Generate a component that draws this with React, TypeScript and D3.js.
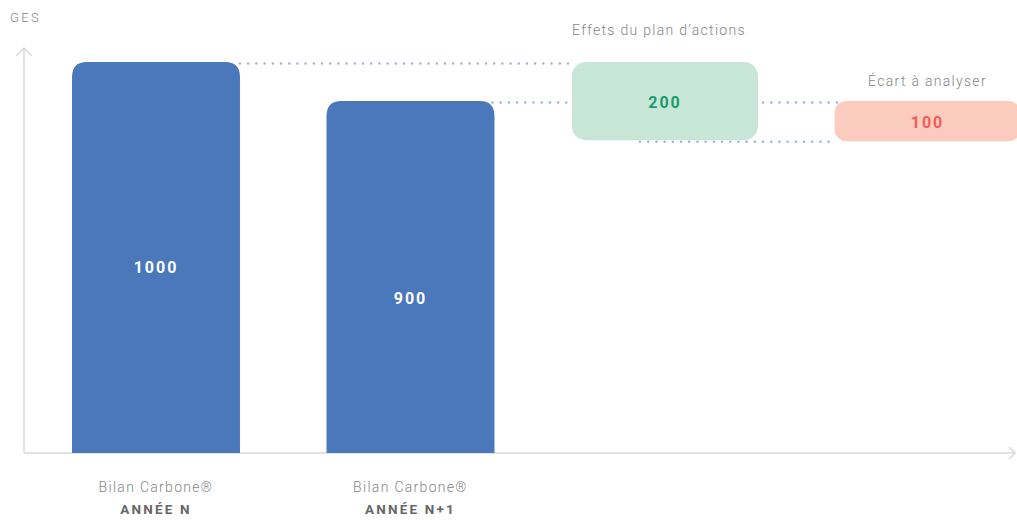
import React from 'react';
import * as d3 from 'd3';

// données
const steps = ['N', 'N+1', 'plan', 'ecart'];
const barLabels = ['ANNÉE N', 'ANNÉE N+1'];
const barSubLabel = 'Bilan Carbone®';
const barValues = [1000, 900];
const planEffect = 200;   // 1000 -> 800
const gapValue = 100;     // 900 -> 800
const floatTitles = ["Effets du plan d’actions", 'Écart à analyser'];
const axisTitle = 'GES';

const W = 1017;
const H = 520;
const FONT = 'Roboto, "Open Sans", sans-serif';
const BLUE = '#4a78bb';
const DOT = '#9fb0e4';
const GREY_TXT = '#858585';

function topRounded(x: number, y: number, w: number, h: number, r: number) {
  return `M${x},${y + h}V${y + r}Q${x},${y} ${x + r},${y}H${x + w - r}Q${x + w},${y} ${x + w},${y + r}V${y + h}Z`;
}

export default function App() {
  const x = d3.scaleBand<string>().domain(steps).range([72, 1003.5]).paddingInner(0.34).paddingOuter(0);
  const y = d3.scaleLinear().domain([0, 1000]).range([453, 62]);
  const bw = x.bandwidth();
  const cx = (k: string) => (x(k) as number) + bw / 2;

  const planTop = barValues[0];
  const planBottom = barValues[0] - planEffect;
  const gapTop = barValues[1];
  const gapBottom = barValues[1] - gapValue;

  const greenX = (x('plan') as number) - 9;
  const greenW = bw + 18;
  const redX = (x('ecart') as number) - 1;
  const redW = bw + 18;
  const labelDy = [10, 21];

  const dotted = (x1: number, x2: number, v: number, key: string) => (
    <line key={key} x1={x1} x2={x2} y1={y(v) + 1.5} y2={y(v) + 1.5}
      stroke={DOT} strokeWidth={2.5} strokeLinecap="round" strokeDasharray="0 8.2" />
  );

  return (
    <svg width={W} height={H} style={{ position: 'absolute', left: 0, top: 0, background: '#fff' }} fontFamily={FONT}>
      {/* axes */}
      <g stroke="#d8d8d8" strokeWidth={1.4} fill="none">
        <line x1={24} y1={y(0)} x2={24} y2={48} />
        <polyline points="16,56 24,48 32,56" />
        <line x1={24} y1={y(0)} x2={1015} y2={y(0)} />
        <polyline points="1009,447 1015,453 1009,459" />
      </g>
      <text x={10} y={22} fontSize={13} fill={GREY_TXT} letterSpacing={2.4} fontWeight={300}>{axisTitle}</text>

      {/* lignes pointillées */}
      {dotted((x('N') as number) + bw, greenX, planTop, 'l1')}
      {dotted(cx('N+1'), redX + 10, gapTop, 'l2')}
      {dotted(greenX + 68, redX + 2, planBottom, 'l3')}

      {/* barres */}
      {barValues.map((v, i) => {
        const k = steps[i];
        return (
          <g key={k}>
            <path d={topRounded(x(k) as number, y(v), bw, y(0) - y(v), 15)} fill={BLUE} />
            <text x={cx(k)} y={y(v / 2) + labelDy[i]} dy="0.35em" textAnchor="middle" fill="#fff"
              fontSize={16} fontWeight={700} letterSpacing={2}>{v}</text>
            <text x={cx(k)} y={492} textAnchor="middle" fill={GREY_TXT} fontSize={14} fontWeight={300} letterSpacing={1.3}>{barSubLabel}</text>
            <text x={cx(k)} y={514} textAnchor="middle" fill="#666" fontSize={13.5} fontWeight={700} letterSpacing={2.2}>{barLabels[i]}</text>
          </g>
        );
      })}

      {/* effets du plan */}
      <rect x={greenX} y={y(planTop)} width={greenW} height={y(planBottom) - y(planTop)} rx={14} fill="#c8e6d8" />
      <text x={greenX + greenW / 2} y={(y(planTop) + y(planBottom)) / 2 + 1} dy="0.35em" textAnchor="middle"
        fill="#1a9b6c" fontSize={16} fontWeight={700} letterSpacing={2}>{planEffect}</text>
      <text x={greenX + greenW / 2 - 6} y={35} textAnchor="middle" fill={GREY_TXT} fontSize={14} fontWeight={300} letterSpacing={1.3}>{floatTitles[0]}</text>

      {/* écart */}
      <rect x={redX} y={y(gapTop)} width={redW} height={y(gapBottom) - y(gapTop) + 1} rx={12} fill="#fbcbbd" />
      <text x={redX + redW / 2} y={(y(gapTop) + y(gapBottom)) / 2 + 1.5} dy="0.35em" textAnchor="middle"
        fill="#ef5f59" fontSize={16} fontWeight={700} letterSpacing={2}>{gapValue}</text>
      <text x={redX + redW / 2} y={86} textAnchor="middle" fill={GREY_TXT} fontSize={14} fontWeight={300} letterSpacing={1.3}>{floatTitles[1]}</text>
    </svg>
  );
}
